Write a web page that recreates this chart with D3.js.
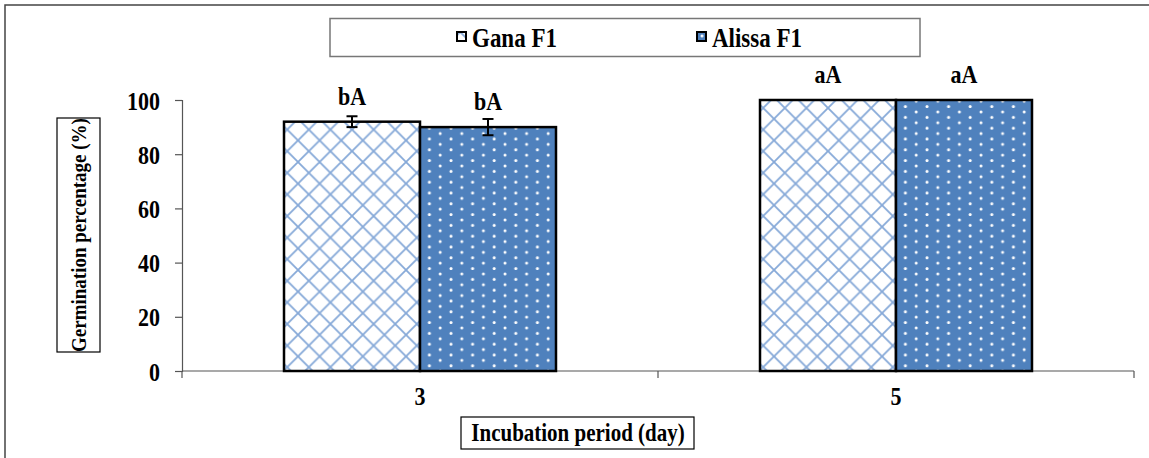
<!DOCTYPE html>
<html>
<head>
<meta charset="utf-8">
<script src="https://cdn.jsdelivr.net/npm/d3@7"></script>
<style>
  body { margin: 0; background: #fff; }
  svg text { font-family: "Liberation Serif", "Times New Roman", serif !important; font-weight: bold; fill: #000; }
</style>
</head>
<body>
<div id="chart"></div>
<script>
var w = 1149;
var h = 458;
var stretch = 1.15; // glyphs in the picture are a bit taller than wide

// data
var days = ["3", "5"];
var seriesNames = ["Gana F1", "Alissa F1"];
var ganaValues = [92, 100];
var alissaValues = [90, 100];
var ganaErrors = [2, 0];
var alissaErrors = [3, 0];
var ganaLetters = ["bA", "aA"];
var alissaLetters = ["bA", "aA"];
var yTicks = [0, 20, 40, 60, 80, 100];

var rows = days.map(function (d, i) {
    return {
        day: d,
        bars: [
            { name: seriesNames[0], value: ganaValues[i], err: ganaErrors[i], label: ganaLetters[i] },
            { name: seriesNames[1], value: alissaValues[i], err: alissaErrors[i], label: alissaLetters[i] }
        ]
    };
});

var svg = d3.select("#chart")
    .append("svg")
    .attr("width", w)
    .attr("height", h);

// places a text at (x, y) and stretches it vertically
function place(sel, fx, fy) {
    sel.attr("transform", function (d, i) {
        var px = typeof fx === "function" ? fx(d, i) : fx;
        var py = typeof fy === "function" ? fy(d, i) : fy;
        return "translate(" + px + "," + py + ") scale(1," + stretch + ")";
    });
}

// patterns
var defs = svg.append("defs");
var hatch = defs.append("pattern")
    .attr("id", "hatch")
    .attr("patternUnits", "userSpaceOnUse")
    .attr("width", 21.6)
    .attr("height", 21.6)
    .attr("x", 284)
    .attr("y", 0);
hatch.append("rect").attr("width", 21.6).attr("height", 21.6).attr("fill", "#fff");
hatch.append("path")
    .attr("d", "M0,0L21.6,21.6M21.6,0L0,21.6")
    .attr("stroke", "#86a9d8")
    .attr("stroke-width", 1.8);

var dots = defs.append("pattern")
    .attr("id", "dots")
    .attr("patternUnits", "userSpaceOnUse")
    .attr("width", 21.6)
    .attr("height", 10.8)
    .attr("x", 0)
    .attr("y", 0);
dots.append("rect").attr("width", 21.6).attr("height", 10.8).attr("fill", "#4f81bd");
dots.append("circle").attr("cx", 5).attr("cy", 4).attr("r", 1.5).attr("fill", "#fff");
dots.append("circle").attr("cx", 15.8).attr("cy", 9.4).attr("r", 1.5).attr("fill", "#fff");

var fills = { "Gana F1": "url(#hatch)", "Alissa F1": "url(#dots)" };

// outer frame (cropped)
svg.append("path")
    .attr("d", "M5," + h + "V5H" + w)
    .attr("fill", "none")
    .attr("stroke", "#444")
    .attr("stroke-width", 1.5);

// scales
var x0 = d3.scaleBand()
    .domain(days)
    .range([182, 1134])
    .paddingInner(0.4286)
    .paddingOuter(0.2143);

var x1 = d3.scaleBand()
    .domain(seriesNames)
    .range([0, x0.bandwidth()]);

var y = d3.scaleLinear()
    .domain([0, 100])
    .range([371, 100]);

// y axis
var yAxis = svg.append("g")
    .attr("transform", "translate(182,0)")
    .call(d3.axisLeft(y).tickValues(yTicks).tickSize(7).tickPadding(14));
yAxis.select(".domain").attr("stroke", "#555").attr("stroke-width", 1.2);
yAxis.selectAll(".tick line").attr("stroke", "#555").attr("stroke-width", 1.2);
yAxis.selectAll(".tick text")
    .style("font-size", "22px")
    .attr("dy", "0.36em")
    .attr("x", null)
    .call(place, -22, 0);

// x axis line and ticks at band edges
var step = x0.step();
var edges = [0, 1, 2].map(function (i) { return 182 + i * step; });
svg.append("line")
    .attr("x1", 182).attr("x2", 1134)
    .attr("y1", y(0)).attr("y2", y(0))
    .attr("stroke", "#555").attr("stroke-width", 1.2);
svg.selectAll(".xtick")
    .data(edges)
    .enter()
    .append("line")
    .attr("class", "xtick")
    .attr("x1", function (d) { return d; })
    .attr("x2", function (d) { return d; })
    .attr("y1", y(0))
    .attr("y2", y(0) + 7)
    .attr("stroke", "#555").attr("stroke-width", 1.2);

svg.selectAll(".xlabel")
    .data(days)
    .enter()
    .append("text")
    .attr("class", "xlabel")
    .attr("text-anchor", "middle")
    .style("font-size", "22px")
    .text(function (d) { return d; })
    .call(place, function (d) { return x0(d) + x0.bandwidth() / 2; }, 405);

// bars
var groups = svg.selectAll(".grp")
    .data(rows)
    .enter()
    .append("g")
    .attr("class", "grp")
    .attr("transform", function (d) { return "translate(" + x0(d.day) + ",0)"; });

groups.selectAll("rect")
    .data(function (d) { return d.bars; })
    .enter()
    .append("rect")
    .attr("x", function (d) { return x1(d.name); })
    .attr("y", function (d) { return y(d.value); })
    .attr("width", x1.bandwidth())
    .attr("height", function (d) { return y(0) - y(d.value); })
    .attr("fill", function (d) { return fills[d.name]; })
    .attr("stroke", "#000")
    .attr("stroke-width", 2.5);

// error bars
var errs = groups.selectAll(".err")
    .data(function (d) { return d.bars.filter(function (b) { return b.err > 0; }); })
    .enter()
    .append("g")
    .attr("class", "err")
    .attr("stroke", "#000")
    .attr("stroke-width", 2);
errs.append("line")
    .attr("x1", function (d) { return x1(d.name) + x1.bandwidth() / 2; })
    .attr("x2", function (d) { return x1(d.name) + x1.bandwidth() / 2; })
    .attr("y1", function (d) { return y(d.value + d.err); })
    .attr("y2", function (d) { return y(d.value - d.err); });
errs.selectAll(".cap")
    .data(function (d) { return [d.value + d.err, d.value - d.err].map(function (v) { return { name: d.name, v: v }; }); })
    .enter()
    .append("line")
    .attr("x1", function (d) { return x1(d.name) + x1.bandwidth() / 2 - 5.5; })
    .attr("x2", function (d) { return x1(d.name) + x1.bandwidth() / 2 + 5.5; })
    .attr("y1", function (d) { return y(d.v); })
    .attr("y2", function (d) { return y(d.v); });

// letters
groups.selectAll(".lbl")
    .data(function (d) { return d.bars; })
    .enter()
    .append("text")
    .attr("class", "lbl")
    .attr("text-anchor", "middle")
    .style("font-size", "22px")
    .text(function (d) { return d.label; })
    .call(place, function (d) { return x1(d.name) + x1.bandwidth() / 2; }, function (d) { return y(d.value) - 17; });

// legend
svg.append("rect")
    .attr("x", 330).attr("y", 18.5)
    .attr("width", 590).attr("height", 38)
    .attr("fill", "#fff")
    .attr("stroke", "#777")
    .attr("stroke-width", 1.5);
var legendX = [457, 697];
var leg = svg.selectAll(".leg")
    .data(seriesNames)
    .enter()
    .append("g")
    .attr("class", "leg")
    .attr("transform", function (d, i) { return "translate(" + legendX[i] + ",32)"; });
leg.append("rect")
    .attr("width", 9).attr("height", 9)
    .attr("fill", function (d) { return fills[d]; })
    .attr("stroke", "#000")
    .attr("stroke-width", 2);
leg.append("text")
    .style("font-size", "23px")
    .text(function (d) { return d; })
    .call(place, 15, 15);

// axis titles
svg.append("rect")
    .attr("x", 57).attr("y", 118)
    .attr("width", 43).attr("height", 234)
    .attr("fill", "#fff").attr("stroke", "#000").attr("stroke-width", 1.2);
svg.append("text")
    .attr("transform", "translate(86,235) rotate(-90) scale(1," + stretch + ")")
    .attr("text-anchor", "middle")
    .style("font-size", "19px")
    .text("Germination percentage  (%)");

svg.append("rect")
    .attr("x", 461).attr("y", 417)
    .attr("width", 233).attr("height", 32)
    .attr("fill", "#fff").attr("stroke", "#000").attr("stroke-width", 1.2);
svg.append("text")
    .attr("text-anchor", "middle")
    .style("font-size", "21px")
    .text("Incubation period (day)")
    .call(place, 578, 441);
</script>
</body>
</html>
